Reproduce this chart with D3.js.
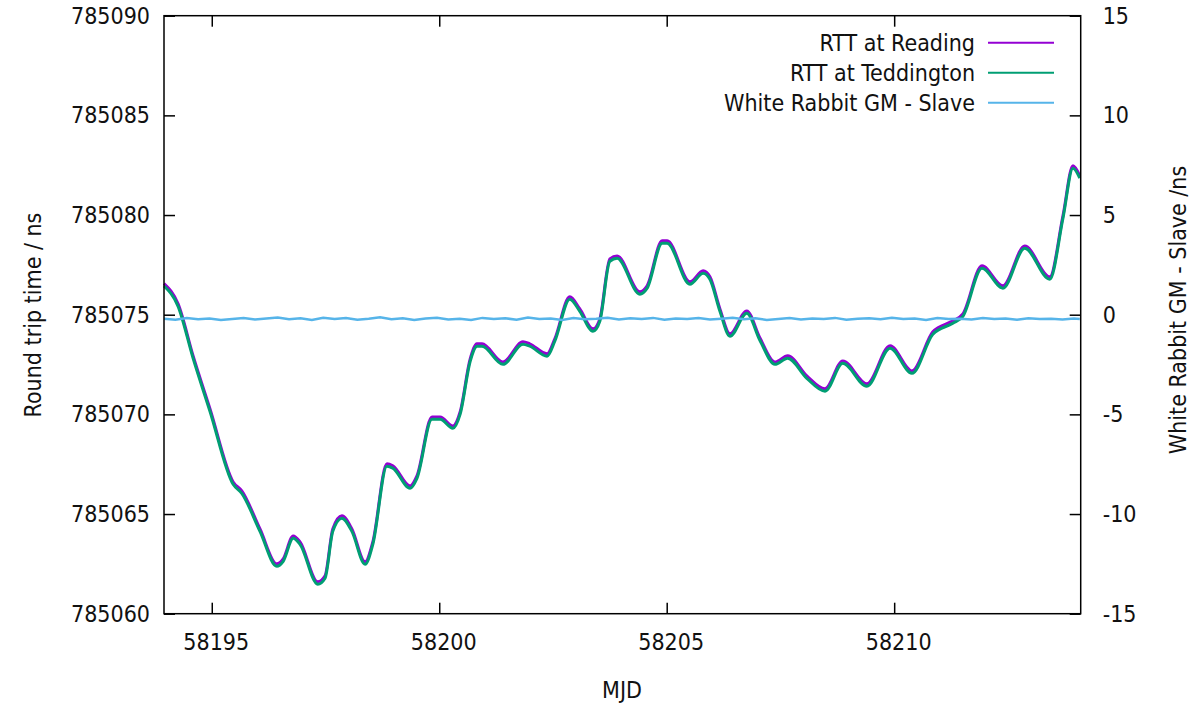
<!DOCTYPE html>
<html lang="en">
<head>
    <meta charset="UTF-8">
    <title>Round trip time</title>
    <script src="https://d3js.org/d3.v7.min.js"></script>
    <style>
        body { margin: 0; background: #fff; }
        svg text {
            font-family: "DejaVu Sans Condensed", "DejaVu Sans", sans-serif;
            font-stretch: condensed;
            font-size: 23px;
            fill: #111;
        }
        .axis line { stroke: #000; stroke-width: 1.5px; }
        .axis path { display: none; }
    </style>
</head>
<body>
<script>
    // MJD sample points
    const rttMjd = [58193.95, 58194.26, 58194.59, 58194.96, 58195.47, 58195.66, 58196.06, 58196.43,
        58196.57, 58196.79, 58196.94, 58197.33, 58197.49, 58197.66, 58197.86, 58198.08, 58198.37,
        58198.54, 58198.85, 58198.98, 58199.36, 58199.51, 58199.84, 58200.02, 58200.30, 58200.46,
        58200.68, 58200.83, 58200.94, 58201.40, 58201.84, 58201.99, 58202.37, 58202.54, 58202.87,
        58203.09, 58203.38, 58203.53, 58203.75, 58203.91, 58204.41, 58204.57, 58204.90, 58205.01,
        58205.51, 58205.80, 58205.95, 58206.17, 58206.39, 58206.76, 58207.05, 58207.38, 58207.66,
        58208.08, 58208.48, 58208.87, 58209.40, 58209.91, 58210.39, 58210.85, 58211.29, 58211.51,
        58211.93, 58212.39, 58212.87, 58213.42, 58213.71, 58213.93, 58214.08];

    const rttReading = [785076.56, 785075.54, 785072.93, 785070.28, 785066.61, 785066.16, 785064.25, 785062.50,
        785062.75, 785063.90, 785063.60, 785061.60, 785061.90, 785064.25, 785064.91, 785064.25, 785062.60,
        785063.60, 785067.52, 785067.42, 785066.41, 785066.91, 785069.87, 785069.87, 785069.42, 785070.13,
        785072.78, 785073.54, 785073.54, 785072.63, 785073.64, 785073.54, 785073.04, 785073.79, 785075.90,
        785075.29, 785074.29, 785074.79, 785077.80, 785077.95, 785076.15, 785076.45, 785078.71, 785078.71,
        785076.65, 785077.20, 785076.90, 785075.29, 785074.04, 785075.19, 785073.83, 785072.63, 785072.94,
        785071.93, 785071.28, 785072.68, 785071.53, 785073.44, 785072.18, 785074.14, 785074.69, 785075.04,
        785077.45, 785076.45, 785078.45, 785076.90, 785079.96, 785082.47, 785081.97];

    const rttTeddington = [785076.44, 785075.42, 785072.81, 785070.16, 785066.49, 785066.04, 785064.13, 785062.38,
        785062.63, 785063.78, 785063.48, 785061.48, 785061.78, 785064.13, 785064.79, 785064.13, 785062.48,
        785063.48, 785067.40, 785067.30, 785066.29, 785066.79, 785069.75, 785069.75, 785069.30, 785070.01,
        785072.66, 785073.42, 785073.42, 785072.51, 785073.52, 785073.42, 785072.92, 785073.67, 785075.78,
        785075.17, 785074.17, 785074.67, 785077.68, 785077.83, 785076.03, 785076.33, 785078.59, 785078.59,
        785076.53, 785077.08, 785076.78, 785075.17, 785073.92, 785075.07, 785073.71, 785072.51, 785072.82,
        785071.81, 785071.16, 785072.56, 785071.41, 785073.32, 785072.06, 785074.02, 785074.57, 785074.92,
        785077.33, 785076.33, 785078.33, 785076.78, 785079.84, 785082.35, 785081.85];

    const wrMjd = [58193.95, 58194.20, 58194.45, 58194.70, 58194.95, 58195.20, 58195.45, 58195.70,
        58195.95, 58196.20, 58196.45, 58196.70, 58196.95, 58197.20, 58197.45, 58197.70, 58197.95,
        58198.20, 58198.45, 58198.70, 58198.95, 58199.20, 58199.45, 58199.70, 58199.95, 58200.20,
        58200.45, 58200.70, 58200.95, 58201.20, 58201.45, 58201.70, 58201.95, 58202.20, 58202.45,
        58202.70, 58202.95, 58203.20, 58203.45, 58203.70, 58203.95, 58204.20, 58204.45, 58204.70,
        58204.95, 58205.20, 58205.45, 58205.70, 58205.95, 58206.20, 58206.45, 58206.70, 58206.95,
        58207.20, 58207.45, 58207.70, 58207.95, 58208.20, 58208.45, 58208.70, 58208.95, 58209.20,
        58209.45, 58209.70, 58209.95, 58210.20, 58210.45, 58210.70, 58210.95, 58211.20, 58211.45,
        58211.70, 58211.95, 58212.20, 58212.45, 58212.70, 58212.95, 58213.20, 58213.45, 58213.70,
        58213.95, 58214.08];

    const wrDiff = [-0.20, -0.25, -0.17, -0.23, -0.19, -0.26, -0.21, -0.16, -0.24, -0.19, -0.14, -0.23,
        -0.18, -0.27, -0.15, -0.22, -0.17, -0.25, -0.20, -0.13, -0.23, -0.18, -0.26, -0.19, -0.15, -0.24,
        -0.20, -0.27, -0.16, -0.22, -0.18, -0.25, -0.14, -0.21, -0.19, -0.26, -0.17, -0.23, -0.20, -0.15,
        -0.24, -0.18, -0.22, -0.16, -0.25, -0.19, -0.21, -0.17, -0.24, -0.20, -0.15, -0.23, -0.18, -0.26,
        -0.21, -0.17, -0.24, -0.19, -0.22, -0.16, -0.25, -0.20, -0.18, -0.23, -0.15, -0.21, -0.19, -0.26,
        -0.17, -0.22, -0.20, -0.24, -0.16, -0.21, -0.19, -0.25, -0.18, -0.22, -0.20, -0.24, -0.19, -0.21];

    const xTicks = [58195, 58200, 58205, 58210];
    const yTicks = [785060, 785065, 785070, 785075, 785080, 785085, 785090];
    const y2Ticks = [-15, -10, -5, 0, 5, 10, 15];

    const seriesNames = ["RTT at Reading", "RTT at Teddington", "White Rabbit GM - Slave"];
    const seriesColors = ["#9400d3", "#009e73", "#56b4e9"];

    const width = 1201, height = 704;
    const margin = { top: 15.7, right: 120.3, bottom: 90.3, left: 164 };
    const plotW = width - margin.left - margin.right,
        plotH = height - margin.top - margin.bottom;

    const svg = d3.select("body").append("svg")
        .attr("width", width)
        .attr("height", height);

    const g = svg.append("g")
        .attr("transform", `translate(${margin.left},${margin.top})`);

    const x = d3.scaleLinear().domain([58193.95, 58214.1]).range([0, plotW]);
    const y = d3.scaleLinear().domain([785060, 785090]).range([plotH, 0]);
    const y2 = d3.scaleLinear().domain([-15, 15]).range([plotH, 0]);

    // plain hyphen minus, like gnuplot
    const plain = d => String(d);

    // axes, gnuplot style: ticks pointing inward
    g.append("g").attr("class", "axis")
        .call(d3.axisLeft(y).tickValues(yTicks).tickSizeInner(-11).tickSizeOuter(0).tickPadding(14).tickFormat(plain));
    g.append("g").attr("class", "axis")
        .attr("transform", `translate(${plotW},0)`)
        .call(d3.axisRight(y2).tickValues(y2Ticks).tickSizeInner(-11).tickSizeOuter(0).tickPadding(22).tickFormat(plain));
    g.append("g").attr("class", "axis")
        .attr("transform", `translate(0,${plotH})`)
        .call(d3.axisBottom(x).tickValues(xTicks).tickSizeInner(-11).tickSizeOuter(0).tickPadding(20).tickFormat(plain))
        .selectAll("text").attr("dx", 4);
    g.append("g").attr("class", "axis")
        .call(d3.axisTop(x).tickValues(xTicks).tickSizeInner(-11).tickSizeOuter(0).tickFormat(""));

    g.selectAll(".axis text").attr("fill", "#111").style("font-size", "23px");

    const rttLine = vals => d3.line()
        .x((d, i) => x(rttMjd[i]))
        .y(d => y(d))
        .curve(d3.curveMonotoneX)(vals);

    g.append("path")
        .attr("d", rttLine(rttReading))
        .attr("fill", "none")
        .attr("stroke", seriesColors[0])
        .attr("stroke-width", 3);

    g.append("path")
        .attr("d", rttLine(rttTeddington))
        .attr("fill", "none")
        .attr("stroke", seriesColors[1])
        .attr("stroke-width", 3);

    g.append("path")
        .attr("d", d3.line().x((d, i) => x(wrMjd[i])).y(d => y2(d))(wrDiff))
        .attr("fill", "none")
        .attr("stroke", seriesColors[2])
        .attr("stroke-width", 2.5);

    // frame
    g.append("rect")
        .attr("width", plotW)
        .attr("height", plotH)
        .attr("fill", "none")
        .attr("stroke", "#000")
        .attr("stroke-width", 1.5);

    // legend
    const legend = svg.append("g");
    seriesNames.forEach((name, i) => {
        const ly = 42.7 + i * 30;
        legend.append("text")
            .attr("x", 975)
            .attr("y", ly)
            .attr("dy", "0.35em")
            .attr("text-anchor", "end")
            .text(name);
        legend.append("line")
            .attr("x1", 988).attr("x2", 1054)
            .attr("y1", ly).attr("y2", ly)
            .attr("stroke", seriesColors[i])
            .attr("stroke-width", 2);
    });

    // axis titles
    svg.append("text")
        .attr("transform", "translate(33,315) rotate(-90)")
        .attr("text-anchor", "middle")
        .attr("dy", "0.35em")
        .text("Round trip time / ns");
    svg.append("text")
        .attr("transform", "translate(1178,310) rotate(-90)")
        .attr("text-anchor", "middle")
        .attr("dy", "0.35em")
        .text("White Rabbit GM - Slave /ns");
    svg.append("text")
        .attr("x", 622)
        .attr("y", 690)
        .attr("text-anchor", "middle")
        .attr("dy", "0.35em")
        .text("MJD");
</script>
</body>
</html>
